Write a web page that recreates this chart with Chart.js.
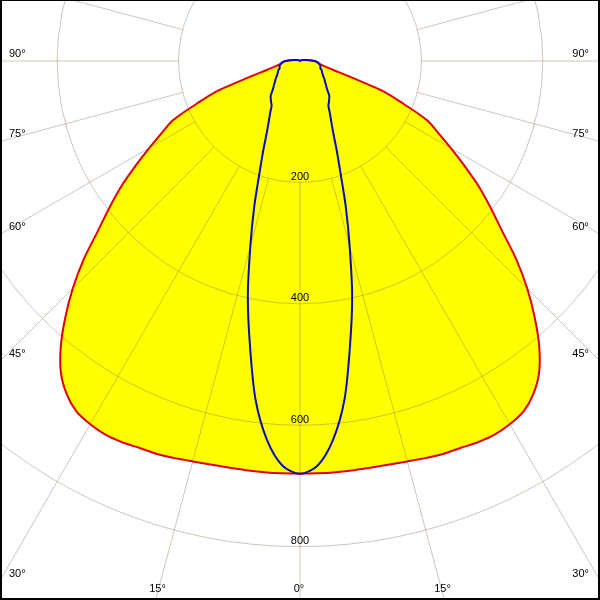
<!DOCTYPE html>
<html>
<head>
<meta charset="utf-8">
<script src="https://cdn.jsdelivr.net/npm/chart.js@4/dist/chart.umd.min.js"></script>
<style>
  body { margin: 0; background: #fff; }
  canvas { display: block; }
</style>
</head>
<body>
<canvas id="grafico" width="600" height="600"></canvas>
<script>
// gamma angles (degrees from nadir)
const angulos = [0, 2.5, 5, 7.5, 10, 12.5, 15, 17.5, 20, 22.5, 25, 27.5, 30, 32.5, 35, 37.5, 40, 42.5, 45, 47.5,
  50, 52.5, 55, 57.5, 60, 62.5, 65, 67.5, 70, 72.5, 75, 77.5, 80, 82.5, 85, 87.5, 90, 95, 100, 105, 120, 150, 180];

// intensity (cd) - red curve, C0-C180
const planoC0 = [680, 680, 680, 680, 680, 681, 683, 686, 689, 690, 693, 694, 691, 685, 670, 647, 613, 572, 529, 483,
  434, 395, 359, 321, 287, 257, 231, 185, 147, 86, 56, 43, 35, 31, 29, 26, 25, 16, 10, 7, 3, 0, 0];

// intensity (cd) - blue curve, C90-C270
const planoC90 = [680, 667, 626, 562, 475, 397, 316, 250, 194, 157, 129, 111, 98, 87, 83, 79, 75, 68, 62, 58,
  54, 51, 48, 45, 43, 41, 40, 38, 36, 35, 35, 34, 33, 31, 30, 27, 25, 16, 10, 7, 3, 0, 0];

const aneis = [200, 400, 600, 800];
const rotulosLado = [90, 75, 60, 45, 30];
const rotulosBaixo = [15, 0];

function curva(valores) {
  const pts = [];
  for (let i = angulos.length - 1; i >= 0; i--) {
    const t = angulos[i] * Math.PI / 180;
    pts.push({ x: valores[i] * Math.sin(t), y: -valores[i] * Math.cos(t) });
  }
  for (let i = 1; i < angulos.length; i++) {
    const t = angulos[i] * Math.PI / 180;
    pts.push({ x: -valores[i] * Math.sin(t), y: -valores[i] * Math.cos(t) });
  }
  return pts;
}

const grade = {
  id: 'grade',
  afterDatasetDraw(chart, args) {
    if (args.index !== 2) return;
    const ctx = chart.ctx;
    const cx = chart.scales.x.getPixelForValue(0);
    const cy = chart.scales.y.getPixelForValue(0);
    const k = chart.scales.x.getPixelForValue(100) - cx;
    ctx.save();
    ctx.strokeStyle = 'rgba(140,120,90,0.42)';
    ctx.lineWidth = 1;
    aneis.forEach(v => {
      ctx.beginPath();
      ctx.arc(cx, cy, v * k / 100, 0, 2 * Math.PI);
      ctx.stroke();
    });
    const r0 = aneis[0] * k / 100;
    const r1 = 2000 * k / 100;
    for (let a = 0; a < 360; a += 15) {
      const t = a * Math.PI / 180;
      ctx.beginPath();
      ctx.moveTo(cx + r0 * Math.sin(t), cy + r0 * Math.cos(t));
      ctx.lineTo(cx + r1 * Math.sin(t), cy + r1 * Math.cos(t));
      ctx.stroke();
    }
    ctx.restore();
  },
  afterDraw(chart) {
    const ctx = chart.ctx;
    const cx = chart.scales.x.getPixelForValue(0);
    const cy = chart.scales.y.getPixelForValue(0);
    const k = chart.scales.x.getPixelForValue(100) - cx;
    const w = chart.width, h = chart.height;
    ctx.save();
    ctx.fillStyle = '#000';
    ctx.font = '11px "Liberation Sans", Arial, sans-serif';

    ctx.textAlign = 'center';
    ctx.textBaseline = 'alphabetic';
    aneis.forEach(v => {
      ctx.fillText(String(v), cx, cy + v * k / 100 - 2.5);
    });

    ctx.textBaseline = 'middle';
    rotulosLado.forEach(a => {
      const t = a * Math.PI / 180;
      const y = cy + cx * Math.cos(t) / Math.sin(t) - 7;
      ctx.textAlign = 'left';
      ctx.fillText(a + '°', 9, y);
      ctx.textAlign = 'right';
      ctx.fillText(a + '°', w - 11, y);
    });

    ctx.textAlign = 'center';
    rotulosBaixo.forEach(a => {
      const t = a * Math.PI / 180;
      const d = (h - 11 - cy) * Math.tan(t);
      ctx.fillText(a + '°', cx - d - 1, h - 11);
      if (a !== 0) ctx.fillText(a + '°', cx + d + 1, h - 11);
    });

    ctx.fillRect(0, 0, w, 1);
    ctx.fillRect(0, 0, 2, h);
    ctx.fillRect(w - 2, 0, 2, h);
    ctx.fillRect(0, h - 2, w, 2);
    ctx.restore();
  }
};

const ctx = document.getElementById('grafico');

new Chart(ctx, {
  type: 'scatter',
  data: {
    datasets: [
      {
        label: 'C90-C270',
        data: curva(planoC90),
        showLine: true,
        borderColor: 'rgb(10,10,190)',
        borderWidth: 2,
        pointRadius: 0,
        tension: 0.3,
        fill: false
      },
      {
        label: 'C0-C180',
        data: curva(planoC0),
        showLine: true,
        borderColor: 'rgb(225,0,0)',
        borderWidth: 2,
        pointRadius: 0,
        tension: 0.3,
        fill: false
      },
      {
        label: 'area',
        data: curva(planoC0),
        showLine: true,
        borderColor: 'rgba(0,0,0,0)',
        borderWidth: 0,
        backgroundColor: '#ffff00',
        pointRadius: 0,
        tension: 0.3,
        fill: 'shape'
      }
    ]
  },
  options: {
    responsive: false,
    animation: false,
    devicePixelRatio: 1,
    layout: { padding: 0 },
    scales: {
      x: { type: 'linear', display: false, min: -494.2, max: 494.2 },
      y: { type: 'linear', display: false, min: -888, max: 100.5 }
    },
    plugins: {
      legend: { display: false },
      tooltip: { enabled: false }
    }
  },
  plugins: [grade]
});
</script>
</body>
</html>
